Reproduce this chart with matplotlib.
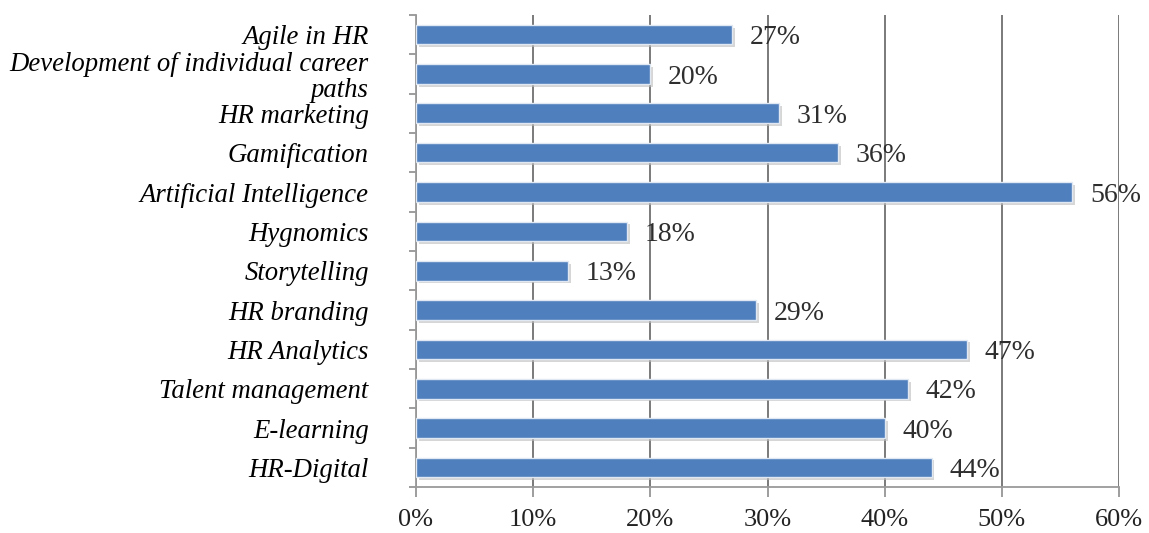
"""
horizontal bar chart - HR trends
"""

import matplotlib.pyplot as plt
import matplotlib.patheffects as pe
import numpy as np

categories = ['Agile in HR', 'Development of individual career\npaths', 'HR marketing',
              'Gamification', 'Artificial Intelligence', 'Hygnomics', 'Storytelling',
              'HR branding', 'HR Analytics', 'Talent management', 'E-learning', 'HR-Digital']
values = [27, 20, 31, 36, 56, 18, 13, 29, 47, 42, 40, 44]
xticks = [0, 10, 20, 30, 40, 50, 60]

plt.rcParams['font.family'] = ['Liberation Serif', 'DejaVu Serif']

fig = plt.figure(figsize=(11.49, 5.33), dpi=100)
ax = fig.add_axes([0.362, 0.086, 0.612, 0.886])

y = np.arange(len(categories))
bars = ax.barh(y, values, height=0.5, color='#4f7fbd', edgecolor='#dfe8f3', linewidth=1,
               zorder=3)
for b in bars:
    b.set_path_effects([pe.SimplePatchShadow(offset=(2, -2), shadow_rgbFace='#bbbbbb', alpha=0.6),
                        pe.Normal()])

for yi, v in zip(y, values):
    ax.text(v + 1.5, yi + 0.08, f'{v}%', va='center', ha='left', fontsize=20,
            color='#2e2e2e', zorder=4)

ax.set_ylim(len(categories) - 0.5, -0.5)
ax.set_xlim(0, 60)
ax.set_yticks(y)
ax.set_yticklabels(categories, fontsize=19.3, style='italic', ha='right', linespacing=1.08)
ax.set_yticks(np.arange(len(categories) + 1) - 0.5, minor=True)
ax.tick_params(axis='y', which='major', length=0, pad=34)
ax.tick_params(axis='y', which='minor', length=5, width=1.2, color='#8c8c8c')

ax.set_xticks(xticks)
ax.set_xticklabels([f'{t}%' for t in xticks], fontsize=19, color='#222222')
ax.tick_params(axis='x', length=7, width=1.2, color='#8c8c8c', pad=9)

ax.grid(axis='x', color='#6f6f6f', linewidth=1.3, zorder=0)
for s in ['top', 'right']:
    ax.spines[s].set_visible(False)
for s in ['left', 'bottom']:
    ax.spines[s].set_color('#9a9a9a')
    ax.spines[s].set_linewidth(1.3)

fig.savefig('out.png', dpi=100)
